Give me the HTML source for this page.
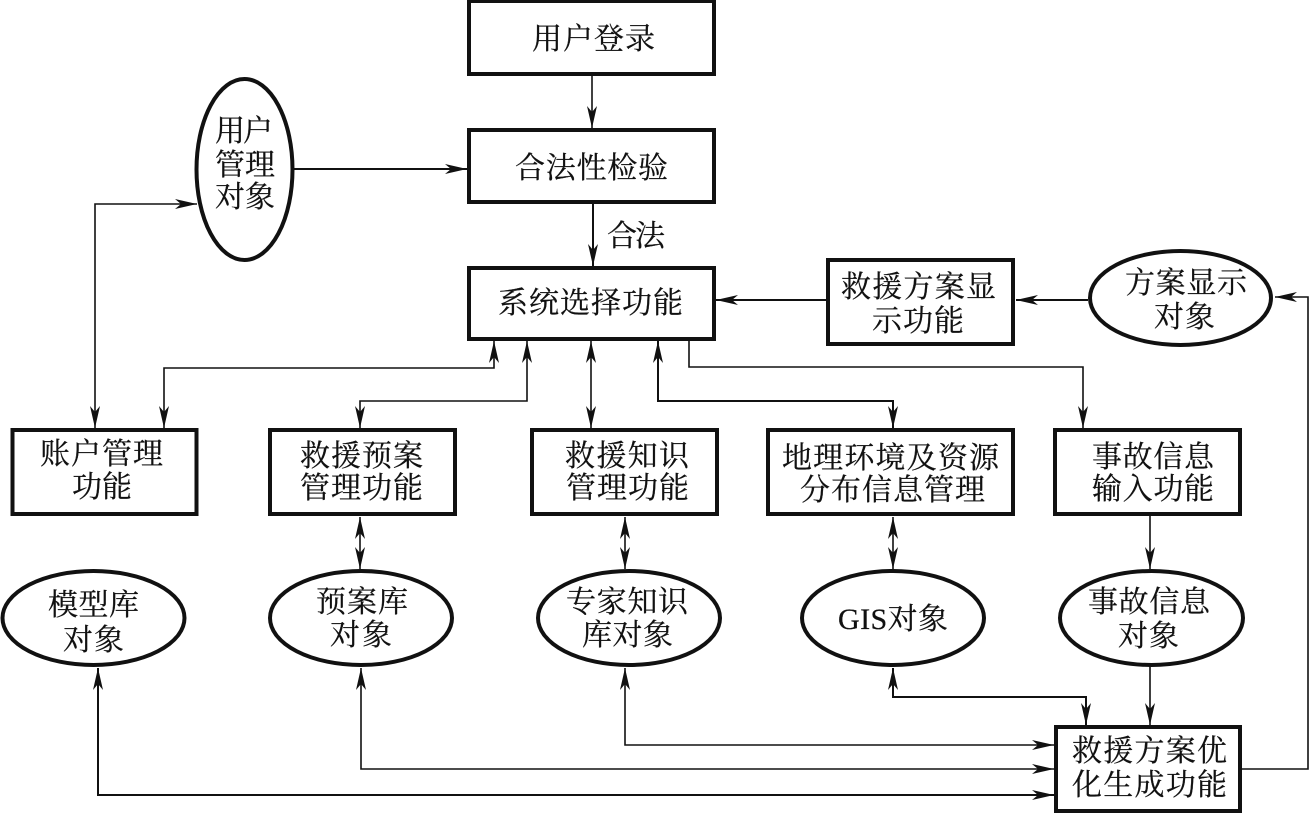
<!DOCTYPE html>
<html lang="zh">
<head>
<meta charset="utf-8">
<style>
html,body{margin:0;padding:0;background:#fff;width:1309px;height:814px;overflow:hidden}
svg{display:block}
text{font-family:"Liberation Serif","Noto Serif CJK SC",serif;font-size:30px;fill:#111;stroke:#111;stroke-width:.25}
.b rect,.b ellipse{fill:#fff;stroke:#111;stroke-width:4}
.c{fill:none;stroke:#111;stroke-width:1.6}
</style>
</head>
<body>
<svg width="1309" height="814" viewBox="0 0 1309 814" xmlns="http://www.w3.org/2000/svg">
<defs>
<marker id="a" markerUnits="userSpaceOnUse" markerWidth="26" markerHeight="14" refX="22" refY="7" orient="auto-start-reverse">
<path d="M0 2 L22 7 L0 12 L6 7 Z" fill="#111"/>
</marker>
</defs>
<g class="c">
<path d="M592 75V128" marker-end="url(#a)"/>
<path d="M294 169H467" marker-end="url(#a)" stroke-width="2"/>
<path d="M593 204V266" marker-end="url(#a)" stroke-width="2"/>
<path d="M827 300H716" marker-end="url(#a)" stroke-width="2"/>
<path d="M1088 300H1016" marker-end="url(#a)" stroke-width="2"/>
<path d="M1241 769H1308V297H1275" marker-end="url(#a)"/>
<path d="M95 428V204H197" marker-start="url(#a)" marker-end="url(#a)"/>
<path d="M164 428V368H494V341" marker-start="url(#a)" marker-end="url(#a)"/>
<path d="M360 428V401H527V341" marker-start="url(#a)" marker-end="url(#a)"/>
<path d="M591 341V428" marker-start="url(#a)" marker-end="url(#a)"/>
<path d="M658 341V401H893V428" marker-start="url(#a)" marker-end="url(#a)" stroke-width="2"/>
<path d="M689 340V367H1083V428" marker-end="url(#a)"/>
<path d="M360 517V569" marker-start="url(#a)" marker-end="url(#a)"/>
<path d="M625 517V569" marker-start="url(#a)" marker-end="url(#a)"/>
<path d="M893 517V569" marker-start="url(#a)" marker-end="url(#a)"/>
<path d="M1150 516V569" marker-end="url(#a)"/>
<path d="M1150 666V725" marker-end="url(#a)"/>
<path d="M893 668V697H1086V725" marker-start="url(#a)" marker-end="url(#a)" stroke-width="2"/>
<path d="M625 668V745H1054" marker-start="url(#a)" marker-end="url(#a)"/>
<path d="M361 668V769H1054" marker-start="url(#a)" marker-end="url(#a)"/>
<path d="M98 668V795H1054" marker-start="url(#a)" marker-end="url(#a)" stroke-width="2"/>
</g>
<g class="b">
<rect x="469" y="1" width="245" height="73"/>
<rect x="469" y="130" width="245" height="72"/>
<rect x="469" y="268" width="245" height="71"/>
<rect x="828" y="260" width="185" height="84"/>
<rect x="12.500" y="430" width="184" height="84"/>
<rect x="270" y="430" width="185" height="84"/>
<rect x="532" y="430" width="185" height="84"/>
<rect x="768" y="430" width="245" height="84"/>
<rect x="1055" y="430" width="185" height="84"/>
<rect x="1056" y="727" width="184" height="84"/>
<ellipse cx="244.500" cy="169.500" rx="48" ry="90.500"/>
<ellipse cx="1180.500" cy="298" rx="90.500" ry="47"/>
<ellipse cx="93.500" cy="618" rx="91" ry="47"/>
<ellipse cx="361" cy="618" rx="91" ry="47"/>
<ellipse cx="629" cy="618" rx="91" ry="47"/>
<ellipse cx="893" cy="618" rx="91" ry="47"/>
<ellipse cx="1151.500" cy="618" rx="91.500" ry="47"/>
</g>
<g>
<text x="532" y="49" textLength="123">用户登录</text>
<text x="515" y="178" textLength="153">合法性检验</text>
<text x="607" y="246" textLength="58">合法</text>
<text x="498" y="313" textLength="185">系统选择功能</text>
<text x="841" y="297" textLength="155">救援方案显</text>
<text x="872" y="331" textLength="92">示功能</text>
<text x="1125" y="293" textLength="122">方案显示</text>
<text x="1154" y="327" textLength="61">对象</text>
<text x="215" y="141" textLength="58">用户</text>
<text x="215" y="175" textLength="60">管理</text>
<text x="215" y="207" textLength="60">对象</text>
<text x="40" y="464" textLength="123">账户管理</text>
<text x="72" y="497" textLength="60">功能</text>
<text x="300" y="466" textLength="123">救援预案</text>
<text x="300" y="498" textLength="123">管理功能</text>
<text x="565" y="466" textLength="124">救援知识</text>
<text x="566" y="498" textLength="123">管理功能</text>
<text x="782" y="468" textLength="217">地理环境及资源</text>
<text x="800" y="500" textLength="185">分布信息管理</text>
<text x="1092" y="467" textLength="122">事故信息</text>
<text x="1092" y="499" textLength="122">输入功能</text>
<text x="48" y="615" textLength="91">模型库</text>
<text x="63" y="650" textLength="61">对象</text>
<text x="316" y="612" textLength="92">预案库</text>
<text x="330" y="645" textLength="62">对象</text>
<text x="566" y="612" textLength="122">专家知识</text>
<text x="582" y="645" textLength="91">库对象</text>
<text x="838" y="629" textLength="110">GIS对象</text>
<text x="1088" y="612" textLength="122">事故信息</text>
<text x="1118" y="646" textLength="61">对象</text>
<text x="1072" y="761" textLength="155">救援方案优</text>
<text x="1072" y="795" textLength="155">化生成功能</text>
</g>
</svg>
</body>
</html>
